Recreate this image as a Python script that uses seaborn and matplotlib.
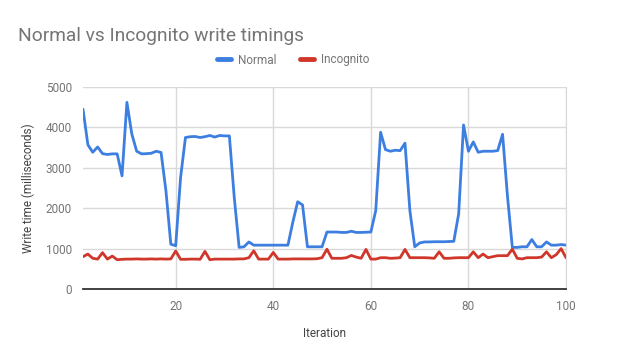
import pandas as pd
import matplotlib
matplotlib.use('Agg')
import matplotlib.pyplot as plt
import seaborn as sns

# Values (milliseconds per iteration)
iterations = list(range(1, 101))
normal = [4450, 3570, 3385, 3515, 3350, 3330, 3345, 3345, 2800, 4620,
          3840, 3410, 3345, 3350, 3360, 3410, 3380, 2430, 1110, 1070,
          2760, 3750, 3770, 3775, 3750, 3770, 3800, 3760, 3800, 3790,
          3790, 2270, 1030, 1045, 1165, 1085, 1085, 1085, 1085, 1085,
          1085, 1085, 1085, 1650, 2160, 2080, 1045, 1045, 1045, 1045,
          1410, 1410, 1410, 1400, 1400, 1430, 1400, 1400, 1405, 1410,
          1940, 3880, 3450, 3410, 3435, 3425, 3610, 1940, 1045, 1140,
          1165, 1165, 1170, 1170, 1170, 1175, 1180, 1860, 4060, 3410,
          3640, 3385, 3410, 3410, 3410, 3425, 3830, 2300, 1030, 1030,
          1045, 1045, 1225, 1045, 1045, 1165, 1085, 1085, 1100, 1085]
incognito = [800, 865, 760, 740, 900, 740, 815, 725, 735, 740,
             740, 745, 740, 740, 745, 740, 745, 740, 745, 940,
             735, 735, 740, 740, 735, 930, 725, 740, 740, 740,
             740, 740, 745, 745, 775, 945, 740, 740, 740, 905,
             740, 740, 740, 745, 745, 745, 745, 745, 750, 775,
             985, 760, 760, 760, 775, 830, 790, 760, 980, 740,
             740, 775, 775, 760, 765, 775, 980, 775, 775, 775,
             775, 770, 760, 920, 760, 760, 770, 775, 775, 775,
             920, 775, 865, 775, 800, 825, 825, 825, 985, 760,
             745, 775, 775, 775, 790, 920, 775, 850, 1000, 775]
series_names = ['Normal', 'Incognito']
x_ticks = [20, 40, 60, 80, 100]
y_ticks = [0, 1000, 2000, 3000, 4000, 5000]

df = pd.DataFrame({
    'Iteration': iterations * 2,
    'value': normal + incognito,
    'series': [series_names[0]] * len(normal) + [series_names[1]] * len(incognito),
})

sns.set_style('white')
plt.rcParams['font.family'] = ['Roboto', 'DejaVu Sans']
grey = '#757575'
colors = {'Normal': '#3d7fe0', 'Incognito': '#d0372b'}

fig = plt.figure(figsize=(6.4, 3.6), dpi=100)
ax = fig.add_axes([83 / 640, 71 / 360, 483 / 640, 202 / 360])

sns.lineplot(data=df, x='Iteration', y='value', hue='series',
             palette=colors, linewidth=2, ax=ax, legend=False)

ax.set_xlim(1, 100)
ax.set_ylim(0, 5000)
ax.set_xticks(x_ticks)
ax.set_yticks(y_ticks)
ax.grid(True, color='#d9d9d9', linewidth=1)
ax.set_axisbelow(True)
for side in ['left', 'top']:
    ax.spines[side].set_visible(False)
ax.spines['right'].set_color('#d9d9d9')
ax.spines['bottom'].set_color('#333333')
ax.spines['bottom'].set_linewidth(1.3)
ax.tick_params(length=0, labelsize=8.5, labelcolor=grey, pad=8)

ax.set_xlabel('Iteration', fontsize=8.5, color='#444444', labelpad=10)
ax.set_ylabel('Write time (milliseconds)', fontsize=8.5, color='#444444', labelpad=8)

fig.text(18 / 640, 1 - 36 / 360, 'Normal vs Incognito write timings',
         fontsize=13.8, color=grey, va='center', ha='left')

# legend
handles = [plt.Line2D([], [], color=colors[n], linewidth=3.5) for n in series_names]
fig.legend(handles, series_names, loc='center', bbox_to_anchor=(293 / 640, 1 - 60 / 360),
           ncol=2, frameon=False, fontsize=8.5, labelcolor=grey,
           handlelength=1.2, handletextpad=0.6, columnspacing=2.0)

fig.savefig('out.png', dpi=100)
